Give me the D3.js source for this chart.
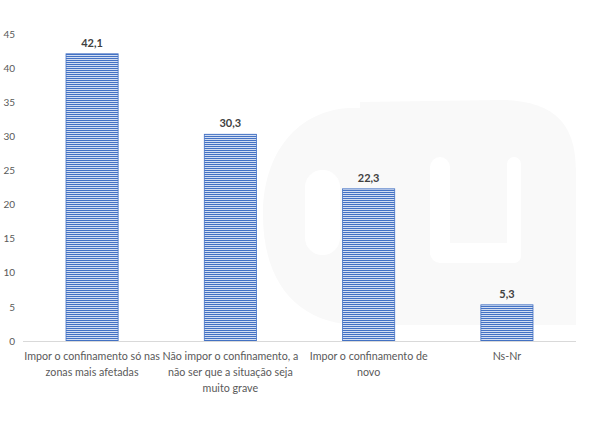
<!DOCTYPE html>
<html><head><meta charset="utf-8">
<script src="https://cdn.jsdelivr.net/npm/d3@7"></script>
<style>body{margin:0;background:#fff}svg{display:block}</style>
</head><body>
<svg id="c" width="590" height="442"></svg>
<script>
const categories = [
  ["Impor o confinamento só nas", "zonas mais afetadas"],
  ["Não impor o confinamento, a", "não ser que a situação seja", "muito grave"],
  ["Impor o confinamento de", "novo"],
  ["Ns-Nr"]
];
const values = [42.1, 30.3, 22.3, 5.3];
const valueLabels = ["42,1", "30,3", "22,3", "5,3"];
const yTicks = [0, 5, 10, 15, 20, 25, 30, 35, 40, 45];

const svg = d3.select("#c");
const mLeft = 23, mRight = 576, mTop = 34, mBottom = 341;

// faint watermark
const wm = svg.append("g").attr("fill", "#f9f9f9");
wm.append("path").attr("d", "M263,215 C263,150 300,110 350,108 L360,108 L360,102 L500,100 C560,100 576,130 576,170 L576,325 L360,325 C300,325 263,285 263,215 Z");
const wh = svg.append("g").attr("fill", "#fff");
wh.append("rect").attr("x", 305).attr("y", 170).attr("width", 35).attr("height", 85).attr("rx", 17);
wh.append("rect").attr("x", 430).attr("y", 157).attr("width", 20).attr("height", 106).attr("rx", 10);
wh.append("rect").attr("x", 507).attr("y", 157).attr("width", 14).attr("height", 106).attr("rx", 7);
wh.append("rect").attr("x", 440).attr("y", 243).attr("width", 75).attr("height", 20);

const defs = svg.append("defs");
const pat = defs.append("pattern").attr("id", "stripes").attr("patternUnits", "userSpaceOnUse")
  .attr("width", 4).attr("height", 2);
pat.append("rect").attr("width", 4).attr("height", 2).attr("fill", "#d3def2");
pat.append("rect").attr("width", 4).attr("height", 1).attr("fill", "#4472c4");

const x = d3.scaleBand().domain(d3.range(values.length)).range([mLeft, mRight]).paddingInner(0.623).paddingOuter(0.311);
const y = d3.scaleLinear().domain([0, 45]).range([mBottom, mTop]);

// y tick labels
const yAxis = d3.axisLeft(y).tickValues(yTicks).tickSize(0).tickPadding(0);
const ya = svg.append("g").attr("transform", "translate(15,0)").call(yAxis);
ya.select(".domain").remove();
ya.selectAll("text").attr("font-family", "Lato, 'Open Sans', sans-serif").attr("font-size", 10).attr("fill", "#595959");

// bars
svg.append("g").selectAll("rect").data(values).join("rect")
  .attr("x", (d, i) => x(i)).attr("width", x.bandwidth())
  .attr("y", d => y(d)).attr("height", d => y(0) - y(d))
  .attr("fill", "url(#stripes)").attr("stroke", "#4472c4").attr("stroke-width", 0.8);

// baseline
svg.append("line").attr("x1", mLeft).attr("x2", mRight).attr("y1", mBottom + 0.5).attr("y2", mBottom + 0.5)
  .attr("stroke", "#d9d9d9").attr("stroke-width", 1);

// value labels
svg.append("g").selectAll("text").data(values).join("text")
  .attr("x", (d, i) => x(i) + x.bandwidth() / 2).attr("y", d => y(d) - 7)
  .attr("text-anchor", "middle").attr("font-family", "Lato, 'Open Sans', sans-serif")
  .attr("font-size", 11).attr("font-weight", "bold").attr("fill", "#404040")
  .text((d, i) => valueLabels[i]);

// category labels
const cg = svg.append("g");
categories.forEach((lines, i) => {
  const t = cg.append("text").attr("text-anchor", "middle")
    .attr("font-family", "Lato, 'Open Sans', sans-serif").attr("font-size", 10.7).attr("fill", "#595959");
  lines.forEach((ln, j) => {
    t.append("tspan").attr("x", x(i) + x.bandwidth() / 2).attr("y", 360 + j * 16).text(ln);
  });
});
</script>
</body></html>
